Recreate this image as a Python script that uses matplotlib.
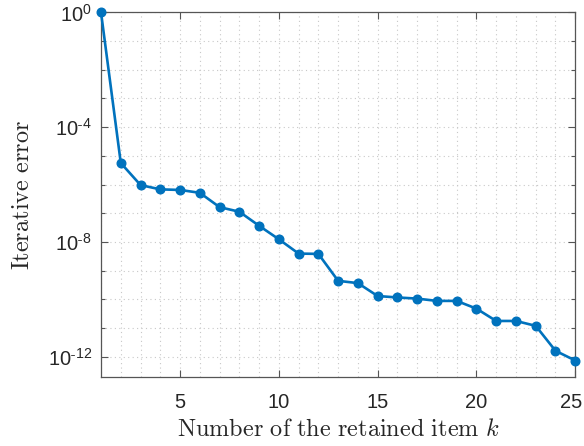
import numpy as np
import matplotlib
matplotlib.use("Agg")
import matplotlib.pyplot as plt
from matplotlib.ticker import LogLocator, MultipleLocator, NullFormatter, FuncFormatter

plt.rcParams['font.family'] = ['Liberation Sans', 'DejaVu Sans']
plt.rcParams['mathtext.fontset'] = 'cm'
plt.rcParams['axes.unicode_minus'] = False

# data (log10 of the iterative error)
k = np.arange(1, 26)
log_err = [0.0, -5.25, -6.02, -6.17, -6.19, -6.29, -6.79, -6.95, -7.44, -7.91,
           -8.41, -8.42, -9.36, -9.44, -9.89, -9.94, -9.98, -10.06, -10.06,
           -10.33, -10.76, -10.76, -10.93, -11.80, -12.14]
err = 10.0 ** np.array(log_err)
x_ticks = [5, 10, 15, 20, 25]
y_ticks = [1e0, 1e-4, 1e-8, 1e-12]

axis_col = '#262626'
spine_col = '#555555'
xpad = 11.5


def pow_label(v, pos):
    e = int(round(np.log10(v)))
    if e < 0:
        return r'$\mathdefault{10^{\text{-}%d}}$' % (-e)
    return r'$\mathdefault{10^{%d}}$' % e


fig = plt.figure(figsize=(5.84, 4.46), dpi=100)
ax = fig.add_axes([0.173, 0.155, 0.812, 0.817])

ax.semilogy(k, err, '-o', color='#0072BD', lw=1.9, ms=6.2, clip_on=False, zorder=5)

ax.set_xlim(1, 25)
ax.set_ylim(10 ** -12.71, 1)
ax.set_xticks(x_ticks)
ax.xaxis.set_minor_locator(MultipleLocator(1))
ax.set_yticks(y_ticks)
ax.yaxis.set_major_formatter(FuncFormatter(pow_label))
ax.yaxis.set_minor_locator(LogLocator(base=10, subs=[1.0], numticks=30))
ax.yaxis.set_minor_formatter(NullFormatter())

ax.grid(True, which='both', linestyle=(0, (1, 3)), color='#c8c8c8', lw=0.8)
ax.tick_params(which='both', direction='in', top=True, right=True,
               colors=spine_col, labelcolor=axis_col, labelsize=14.5)
ax.tick_params(which='major', length=5, width=0.8)
ax.tick_params(which='minor', length=3, width=0.8)
ax.tick_params(axis='x', which='minor', length=0)
ax.tick_params(axis='x', pad=xpad)
ax.tick_params(axis='y', pad=6.5)
for s in ax.spines.values():
    s.set_color(spine_col)
    s.set_linewidth(0.9)

# last x label sits against the figure edge: hide it and redraw it nudged left
ax.set_xticklabels([str(v) for v in x_ticks[:-1]] + [''])
ax.annotate(str(x_ticks[-1]), xy=(x_ticks[-1], 0), xycoords=('data', 'axes fraction'),
            xytext=(-3, -xpad), textcoords='offset points', ha='center', va='top',
            fontsize=14.5, color=axis_col)

ax.set_xlabel(r'$\mathrm{Number\ of\ the\ retained\ item}\ k$', fontsize=17.5,
              color=axis_col, labelpad=5)
ax.set_ylabel(r'$\mathrm{Iterative\ error}$', fontsize=17.5, color=axis_col, labelpad=10)

fig.savefig('out.png', dpi=100)
